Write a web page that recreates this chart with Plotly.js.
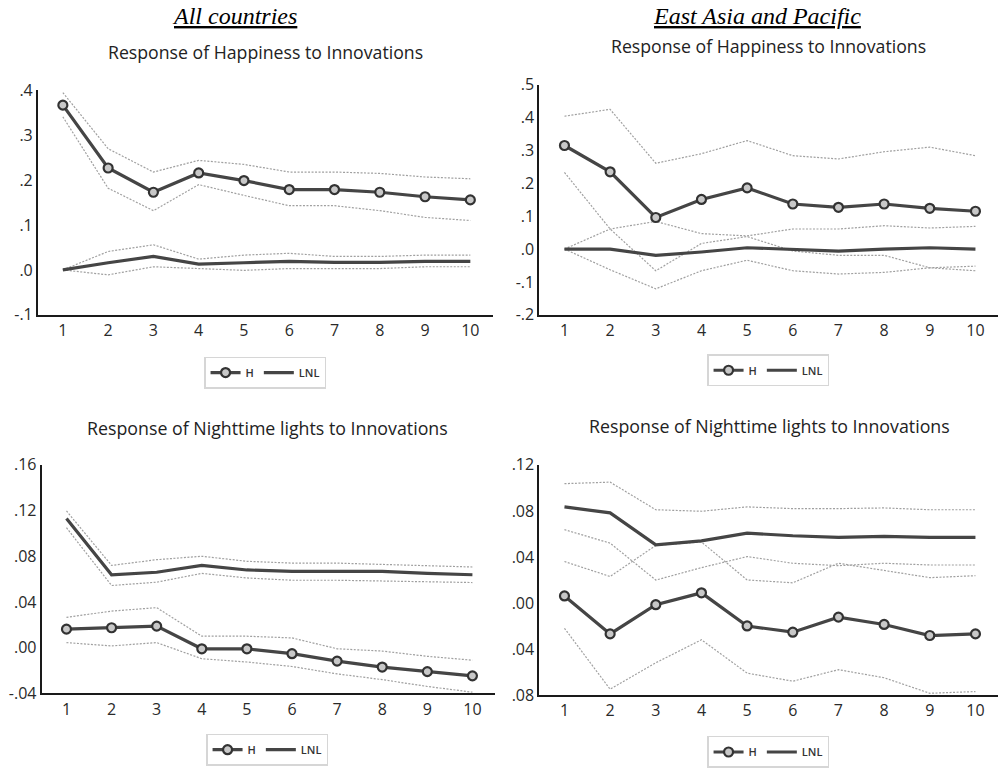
<!DOCTYPE html>
<html>
<head>
<meta charset="utf-8">
<script src="https://cdn.plot.ly/plotly-3.0.1.min.js"></script>
<style>html,body{margin:0;padding:0;background:#fff;}#chart{width:1004px;height:768px;}</style>
</head>
<body>
<div id="chart"></div>
<script>
// Periods
const periods = [1,2,3,4,5,6,7,8,9,10];

// All countries – Response of Happiness
const allHap_H    = [0.367,0.227,0.173,0.216,0.199,0.179,0.179,0.173,0.163,0.156];
const allHap_H_up = [0.395,0.270,0.218,0.244,0.235,0.218,0.218,0.215,0.207,0.203];
const allHap_H_lo = [0.341,0.182,0.132,0.190,0.166,0.143,0.143,0.132,0.117,0.110];
const allHap_L    = [0.000,0.016,0.030,0.013,0.016,0.019,0.017,0.017,0.019,0.019];
const allHap_L_up = [0.000,0.041,0.056,0.024,0.033,0.037,0.030,0.030,0.033,0.033];
const allHap_L_lo = [0.000,-0.011,0.007,0.003,-0.001,0.003,0.003,0.003,0.007,0.007];

// East Asia and Pacific – Response of Happiness
const eapHap_H    = [0.315,0.235,0.096,0.151,0.186,0.137,0.127,0.137,0.124,0.115];
const eapHap_H_up = [0.404,0.425,0.261,0.290,0.330,0.284,0.274,0.296,0.310,0.284];
const eapHap_H_lo = [0.233,0.061,-0.066,0.017,0.038,-0.006,-0.019,-0.019,-0.057,-0.052];
const eapHap_L    = [0.000,0.000,-0.019,-0.009,0.004,0.000,-0.006,0.000,0.004,0.000];
const eapHap_L_up = [0.000,0.061,0.084,0.047,0.040,0.061,0.061,0.071,0.064,0.069];
const eapHap_L_lo = [0.000,-0.063,-0.121,-0.066,-0.034,-0.066,-0.076,-0.071,-0.057,-0.066];

// All countries – Response of Nighttime lights
const allNtl_H    = [0.0162,0.0174,0.0188,-0.0010,-0.0010,-0.0053,-0.0118,-0.0170,-0.0210,-0.0247];
const allNtl_H_up = [0.0265,0.0320,0.0350,0.0100,0.0100,0.0085,-0.0010,-0.0030,-0.0076,-0.0110];
const allNtl_H_lo = [0.0044,0.0015,0.0044,-0.0097,-0.0126,-0.0165,-0.0230,-0.0280,-0.0340,-0.0390];
const allNtl_L    = [0.1130,0.0638,0.0660,0.0720,0.0680,0.0667,0.0667,0.0667,0.0650,0.0638];
const allNtl_L_up = [0.1197,0.0720,0.0770,0.0800,0.0756,0.0740,0.0740,0.0730,0.0717,0.0706];
const allNtl_L_lo = [0.1050,0.0544,0.0573,0.0650,0.0610,0.0590,0.0590,0.0585,0.0580,0.0570];

// East Asia and Pacific – Response of Nighttime lights
const eapNtl_H    = [0.0061,-0.0269,-0.0015,0.0088,-0.0200,-0.0254,-0.0123,-0.0187,-0.0283,-0.0269];
const eapNtl_H_up = [0.0360,0.0230,0.0500,0.0530,0.0200,0.0175,0.0345,0.0280,0.0220,0.0237];
const eapNtl_H_lo = [-0.0220,-0.0750,-0.0520,-0.0320,-0.0610,-0.0680,-0.0580,-0.0650,-0.0785,-0.0770];
const eapNtl_L    = [0.0835,0.0783,0.0505,0.0540,0.0607,0.0584,0.0570,0.0578,0.0570,0.0570];
const eapNtl_L_up = [0.1037,0.1050,0.0810,0.0797,0.0835,0.0820,0.0820,0.0826,0.0810,0.0810];
const eapNtl_L_lo = [0.0637,0.0520,0.0199,0.0307,0.0403,0.0345,0.0324,0.0345,0.0330,0.0330];

// Tick labels
const yt1v = [-0.1,0,0.1,0.2,0.3,0.4];        const yt1t = ['-.1','.0','.1','.2','.3','.4'];
const yt2v = [-0.2,-0.1,0,0.1,0.2,0.3,0.4,0.5]; const yt2t = ['-.2','-.1','.0','.1','.2','.3','.4','.5'];
const yt3v = [-0.04,0,0.04,0.08,0.12,0.16];   const yt3t = ['-.04','.00','.04','.08','.12','.16'];
const yt4v = [-0.08,-0.04,0,0.04,0.08,0.12];  const yt4t = ['.08','.04','.00','.04','.08','.12'];

const headers = ['All countries','East Asia and Pacific'];
const titles = ['Response of Happiness to Innovations','Response of Nighttime lights to Innovations'];
const seriesNames = ['H','LNL'];

const MAIN = '#454545', BAND = '#a0a0a0';
const traces = [];
function panel(ax, leg, H, Hu, Hl, L, Lu, Ll) {
  const xa = 'x' + (ax === 1 ? '' : ax), ya = 'y' + (ax === 1 ? '' : ax);
  const band = (y) => ({x: periods, y: y, xaxis: xa, yaxis: ya, mode: 'lines', showlegend: false,
    hoverinfo: 'skip', line: {color: BAND, width: 1.2, dash: '2px,1.5px'}});
  traces.push(band(Hu), band(Hl), band(Lu), band(Ll));
  traces.push({x: periods, y: L, xaxis: xa, yaxis: ya, mode: 'lines', name: seriesNames[1], legend: leg,
    line: {color: MAIN, width: 3.2}, legendrank: 2});
  traces.push({x: periods, y: H, xaxis: xa, yaxis: ya, mode: 'lines+markers', name: seriesNames[0], legend: leg,
    line: {color: MAIN, width: 3.2}, marker: {symbol: 'circle', size: 9, color: '#c8c8c8', line: {color: '#333', width: 2.2}}, legendrank: 1});
}
panel(1, 'legend',  allHap_H, allHap_H_up, allHap_H_lo, allHap_L, allHap_L_up, allHap_L_lo);
panel(2, 'legend2', eapHap_H, eapHap_H_up, eapHap_H_lo, eapHap_L, eapHap_L_up, eapHap_L_lo);
panel(3, 'legend3', allNtl_H, allNtl_H_up, allNtl_H_lo, allNtl_L, allNtl_L_up, allNtl_L_lo);
panel(4, 'legend4', eapNtl_H, eapNtl_H_up, eapNtl_H_lo, eapNtl_L, eapNtl_L_up, eapNtl_L_lo);

const FONT = 'Open Sans, sans-serif';
const tickfont = {family: FONT, size: 16, color: '#2a2a2a'};
function xax(dom, anchor) {
  return {domain: dom, anchor: anchor, range: [0.45, 10.5], tickvals: periods, ticktext: periods.map(String),
    showline: true, linecolor: '#1a1a1a', linewidth: 2, showgrid: false, zeroline: false, ticks: '',
    tickfont: tickfont, fixedrange: true};
}
function yax(dom, anchor, range, tv, tt) {
  return {domain: dom, anchor: anchor, range: range, tickvals: tv, ticktext: tt,
    showline: true, linecolor: '#1a1a1a', linewidth: 2, showgrid: false, zeroline: false, ticks: '',
    tickfont: tickfont, fixedrange: true};
}
function legend(x, y) {
  return {x: x, y: y, xanchor: 'center', yanchor: 'middle', orientation: 'h', bordercolor: '#d6d6d6', borderwidth: 1.5,
    bgcolor: '#fff', font: {family: FONT, size: 11, color: '#333', weight: 600}, itemwidth: 30, traceorder: 'normal'};
}

const layout = {
  width: 1004, height: 768, autosize: false,
  margin: {l: 0, r: 0, t: 0, b: 0},
  paper_bgcolor: '#fff', plot_bgcolor: '#fff',
  showlegend: true,
  xaxis:  xax([0.0378, 0.491], 'y'),
  yaxis:  yax([0.5885, 0.8819], 'x',  [-0.1, 0.4], yt1v, yt1t),
  xaxis2: xax([0.5372, 0.9943], 'y2'),
  yaxis2: yax([0.5885, 0.8893], 'x2', [-0.2, 0.5], yt2v, yt2t),
  xaxis3: xax([0.0415, 0.493], 'y3'),
  yaxis3: yax([0.0937, 0.3923], 'x3', [-0.04, 0.16], yt3v, yt3t),
  xaxis4: xax([0.5372, 0.9943], 'y4'),
  yaxis4: yax([0.0915, 0.3923], 'x4', [-0.08, 0.12], yt4v, yt4t),
  legend:  legend(0.264, 0.513),
  legend2: legend(0.765, 0.516),
  legend3: legend(0.266, 0.020),
  legend4: legend(0.765, 0.017),
  annotations: [
    {text: '<i><u>' + headers[0] + '</u></i>', x: 234/1004, y: 1 - 16/768, xref: 'paper', yref: 'paper', showarrow: false,
     xanchor: 'center', yanchor: 'middle', font: {family: 'Liberation Serif, serif', size: 24, color: '#000'}},
    {text: '<i><u>' + headers[1] + '</u></i>', x: 757/1004, y: 1 - 16/768, xref: 'paper', yref: 'paper', showarrow: false,
     xanchor: 'center', yanchor: 'middle', font: {family: 'Liberation Serif, serif', size: 24, color: '#000'}},
    {text: titles[0], x: 265/1004, y: 1 - 52/768, xref: 'paper', yref: 'paper', showarrow: false,
     xanchor: 'center', yanchor: 'middle', font: {family: FONT, size: 17.7, color: '#222'}},
    {text: titles[0], x: 768/1004, y: 1 - 46/768, xref: 'paper', yref: 'paper', showarrow: false,
     xanchor: 'center', yanchor: 'middle', font: {family: FONT, size: 17.7, color: '#222'}},
    {text: titles[1], x: 267.5/1004, y: 1 - 430/768, xref: 'paper', yref: 'paper', showarrow: false,
     xanchor: 'center', yanchor: 'middle', font: {family: FONT, size: 17.8, color: '#222'}},
    {text: titles[1], x: 769/1004, y: 1 - 428/768, xref: 'paper', yref: 'paper', showarrow: false,
     xanchor: 'center', yanchor: 'middle', font: {family: FONT, size: 17.8, color: '#222'}}
  ]
};

Plotly.newPlot('chart', traces, layout, {displayModeBar: false, staticPlot: true});
</script>
</body>
</html>
